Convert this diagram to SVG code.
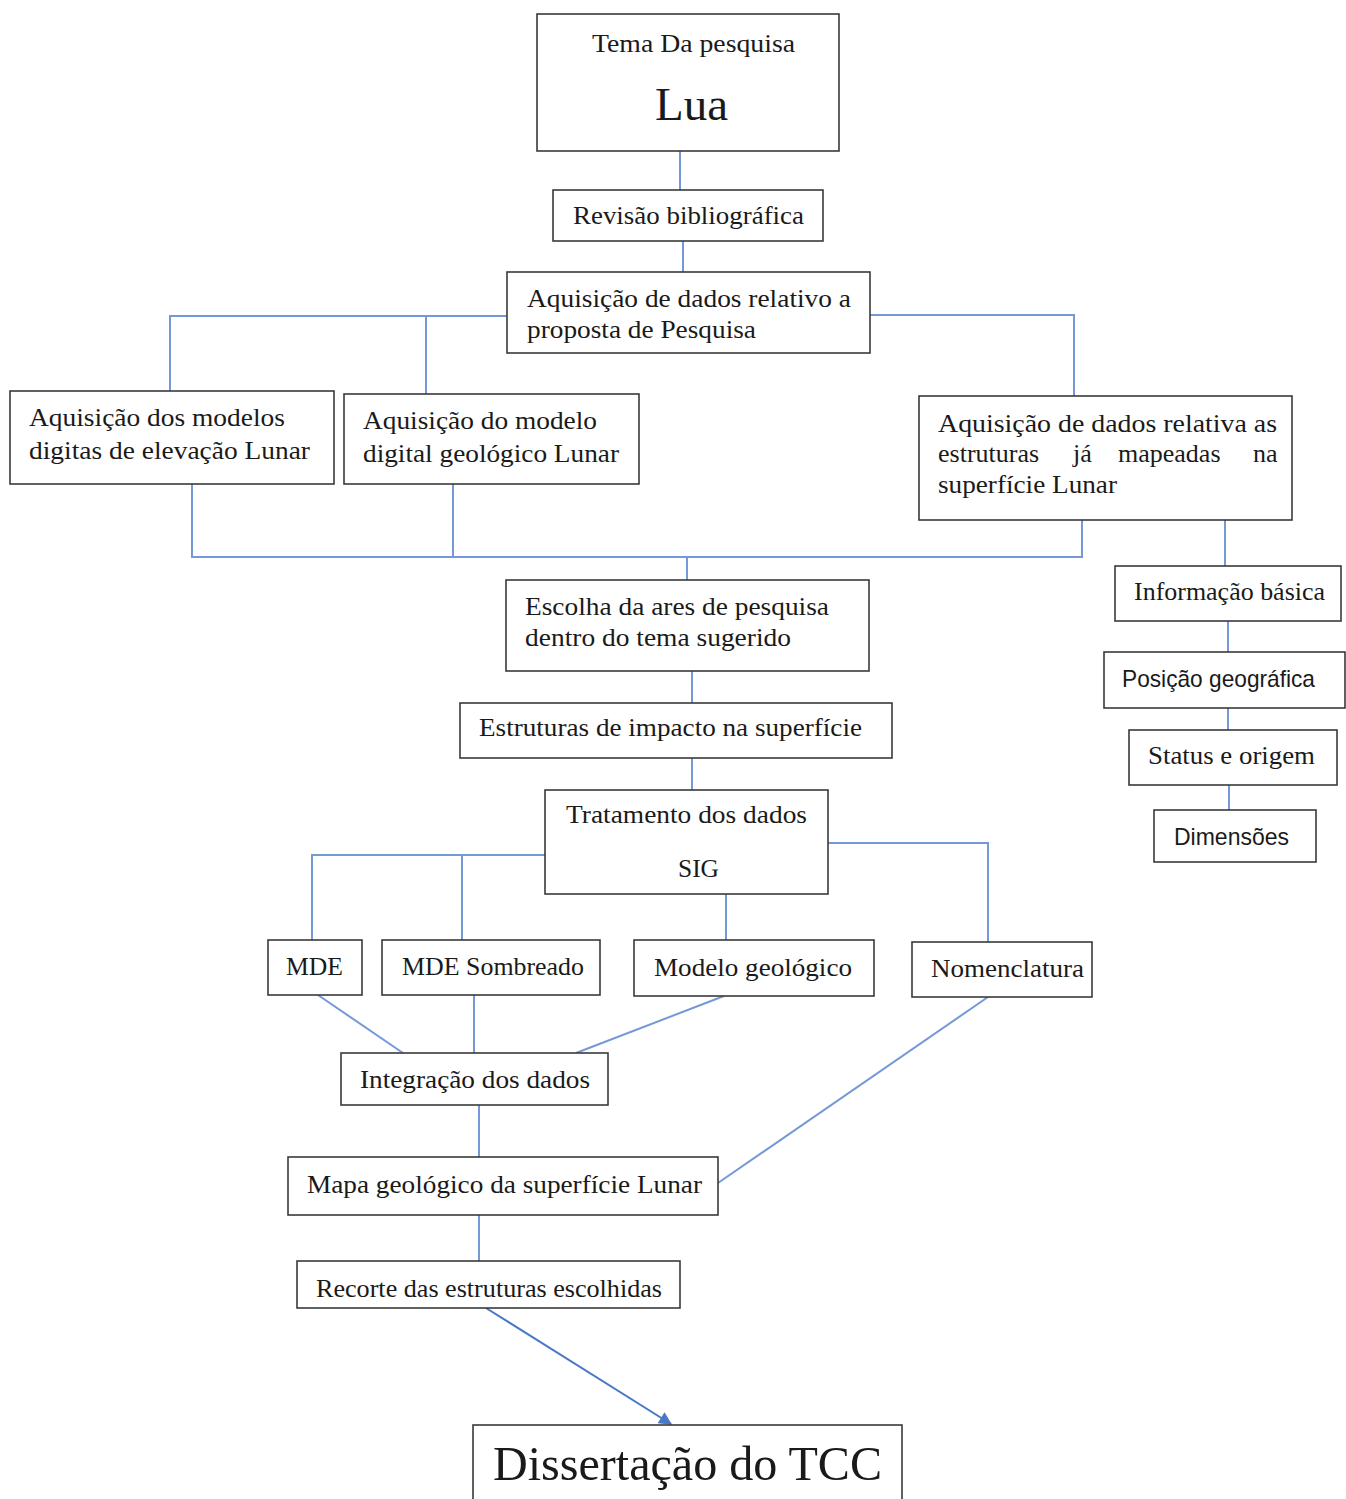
<svg xmlns="http://www.w3.org/2000/svg" width="1346" height="1499" viewBox="0 0 1346 1499">
<style>
.box{fill:#fff;stroke:#3a3a3a;stroke-width:1.6}
.t{font-family:"Liberation Serif","Times New Roman",serif;font-size:26px;fill:#1a1a1a}
.s{font-family:"Liberation Sans",Arial,sans-serif;font-size:24px;fill:#1a1a1a}
.c{stroke:#7598d6;stroke-width:2;fill:none}
.a{stroke:#4a78c8;stroke-width:2;fill:none}
</style>
<defs>
<marker id="arr" viewBox="0 0 10 10" refX="9" refY="5" markerWidth="15" markerHeight="13" orient="auto" markerUnits="userSpaceOnUse">
<path d="M0,0 L10,5 L0,10 z" fill="#4a78c8"/>
</marker>
</defs>
<rect width="1346" height="1499" fill="#fff"/>
<g id="connectors">
<path class="c" d="M680,151 V190"/>
<path class="c" d="M683,241 V272"/>
<path class="c" d="M507,316 H170 V391"/>
<path class="c" d="M426,316 V394"/>
<path class="c" d="M870,315 H1074 V396"/>
<path class="c" d="M192,484 V557 H1082 V520"/>
<path class="c" d="M453,484 V557"/>
<path class="c" d="M687,557 V580"/>
<path class="c" d="M1225,520 V566"/>
<path class="c" d="M1228,621 V652"/>
<path class="c" d="M1228,708 V730"/>
<path class="c" d="M1229,785 V810"/>
<path class="c" d="M692,671 V703"/>
<path class="c" d="M692,758 V790"/>
<path class="c" d="M545,855 H312 V940"/>
<path class="c" d="M462,855 V940"/>
<path class="c" d="M726,894 V940"/>
<path class="c" d="M828,843 H988 V942"/>
<path class="c" d="M318,995 L403,1053"/>
<path class="c" d="M474,995 V1053"/>
<path class="c" d="M724,996 L576,1053"/>
<path class="c" d="M988,997 L718,1183"/>
<path class="c" d="M479,1105 V1157"/>
<path class="c" d="M479,1215 V1261"/>
<path class="a" d="M486,1308 L671,1424" marker-end="url(#arr)"/>
</g>
<g id="n1"><rect class="box" x="537" y="14" width="302" height="137"/>
<text class="t" x="592" y="52" textLength="203" lengthAdjust="spacingAndGlyphs">Tema Da pesquisa</text>
<text class="t" x="655" y="120" style="font-size:46px" textLength="73" lengthAdjust="spacingAndGlyphs">Lua</text></g>
<g id="n2"><rect class="box" x="553" y="190" width="270" height="51"/>
<text class="t" x="573" y="224" textLength="231" lengthAdjust="spacingAndGlyphs">Revisão bibliográfica</text></g>
<g id="n3"><rect class="box" x="507" y="272" width="363" height="81"/>
<text class="t" x="527" y="307" textLength="324" lengthAdjust="spacingAndGlyphs">Aquisição de dados relativo a</text>
<text class="t" x="527" y="338" textLength="229" lengthAdjust="spacingAndGlyphs">proposta de Pesquisa</text></g>
<g id="n4"><rect class="box" x="10" y="391" width="324" height="93"/>
<text class="t" x="29" y="426" textLength="256" lengthAdjust="spacingAndGlyphs">Aquisição dos modelos</text>
<text class="t" x="29" y="459" textLength="281" lengthAdjust="spacingAndGlyphs">digitas de elevação Lunar</text></g>
<g id="n5"><rect class="box" x="344" y="394" width="295" height="90"/>
<text class="t" x="363" y="429" textLength="234" lengthAdjust="spacingAndGlyphs">Aquisição do modelo</text>
<text class="t" x="363" y="462" textLength="256" lengthAdjust="spacingAndGlyphs">digital geológico Lunar</text></g>
<g id="n6"><rect class="box" x="919" y="396" width="373" height="124"/>
<text class="t" x="938" y="432" textLength="339" lengthAdjust="spacingAndGlyphs">Aquisição de dados relativa as</text>
<text class="t" y="462"><tspan x="938">estruturas</tspan><tspan x="1073">já</tspan><tspan x="1118">mapeadas</tspan><tspan x="1253">na</tspan></text>
<text class="t" x="938" y="493" textLength="179" lengthAdjust="spacingAndGlyphs">superfície Lunar</text></g>
<g id="n7"><rect class="box" x="506" y="580" width="363" height="91"/>
<text class="t" x="525" y="615" textLength="304" lengthAdjust="spacingAndGlyphs">Escolha da ares de pesquisa</text>
<text class="t" x="525" y="646" textLength="266" lengthAdjust="spacingAndGlyphs">dentro do tema sugerido</text></g>
<g id="n8"><rect class="box" x="460" y="703" width="432" height="55"/>
<text class="t" x="479" y="736" textLength="383" lengthAdjust="spacingAndGlyphs">Estruturas de impacto na superfície</text></g>
<g id="n9"><rect class="box" x="545" y="790" width="283" height="104"/>
<text class="t" x="566" y="823" textLength="241" lengthAdjust="spacingAndGlyphs">Tratamento dos dados</text>
<text class="t" x="678" y="877" textLength="41" lengthAdjust="spacingAndGlyphs">SIG</text></g>
<g id="n10"><rect class="box" x="268" y="940" width="94" height="55"/>
<text class="t" x="286" y="975" textLength="57" lengthAdjust="spacingAndGlyphs">MDE</text></g>
<g id="n11"><rect class="box" x="382" y="940" width="218" height="55"/>
<text class="t" x="402" y="975" textLength="182" lengthAdjust="spacingAndGlyphs">MDE Sombreado</text></g>
<g id="n12"><rect class="box" x="634" y="940" width="240" height="56"/>
<text class="t" x="654" y="976" textLength="198" lengthAdjust="spacingAndGlyphs">Modelo geológico</text></g>
<g id="n13"><rect class="box" x="912" y="942" width="180" height="55"/>
<text class="t" x="931" y="977" textLength="153" lengthAdjust="spacingAndGlyphs">Nomenclatura</text></g>
<g id="n14"><rect class="box" x="341" y="1053" width="267" height="52"/>
<text class="t" x="360" y="1088" textLength="230" lengthAdjust="spacingAndGlyphs">Integração dos dados</text></g>
<g id="n15"><rect class="box" x="288" y="1157" width="430" height="58"/>
<text class="t" x="307" y="1193" textLength="395" lengthAdjust="spacingAndGlyphs">Mapa geológico da superfície Lunar</text></g>
<g id="n16"><rect class="box" x="297" y="1261" width="383" height="47"/>
<text class="t" x="316" y="1297" textLength="346" lengthAdjust="spacingAndGlyphs">Recorte das estruturas escolhidas</text></g>
<g id="n17"><rect class="box" x="473" y="1425" width="429" height="90"/>
<text class="t" x="493" y="1480" style="font-size:48px" textLength="389" lengthAdjust="spacingAndGlyphs">Dissertação do TCC</text></g>
<g id="n18"><rect class="box" x="1115" y="566" width="226" height="55"/>
<text class="t" x="1134" y="600" textLength="191" lengthAdjust="spacingAndGlyphs">Informação básica</text></g>
<g id="n19"><rect class="box" x="1104" y="652" width="241" height="56"/>
<text class="s" x="1122" y="687" textLength="193" lengthAdjust="spacingAndGlyphs">Posição geográfica</text></g>
<g id="n20"><rect class="box" x="1129" y="730" width="208" height="55"/>
<text class="t" x="1148" y="764" textLength="167" lengthAdjust="spacingAndGlyphs">Status e origem</text></g>
<g id="n21"><rect class="box" x="1154" y="810" width="162" height="52"/>
<text class="s" x="1174" y="845" textLength="115" lengthAdjust="spacingAndGlyphs">Dimensões</text></g>
</svg>
